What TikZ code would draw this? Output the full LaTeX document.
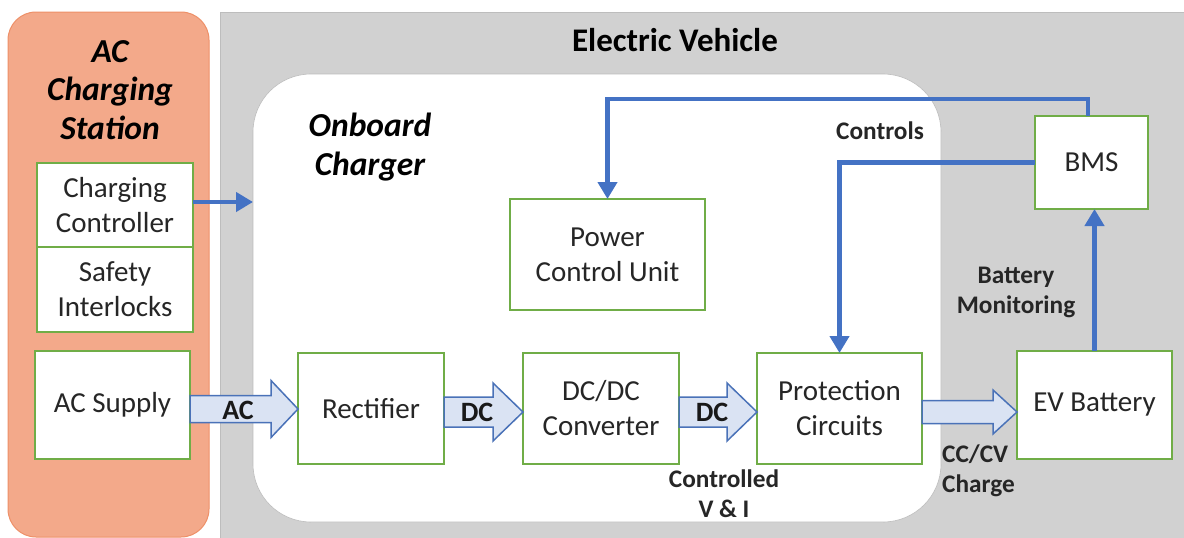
\documentclass[tikz,border=0pt]{standalone}
\usepackage{fontspec}
\setmainfont{Carlito}
\usetikzlibrary{arrows.meta,calc}
\definecolor{orfill}{HTML}{F3A98A}
\definecolor{ordraw}{HTML}{EE9068}
\definecolor{evgray}{HTML}{D1D1D1}
\definecolor{evdraw}{HTML}{BDBDBD}
\definecolor{boxgreen}{HTML}{70AD47}
\definecolor{ctlblue}{HTML}{4472C4}
\definecolor{arrfill}{HTML}{DAE3F3}
\definecolor{arrdraw}{HTML}{4A72B8}
\newcommand\myfatarrow[6]{%
  \draw[fat] let \p1=(#1), \p2=(#2) in
    (\x1,{-(#3-#4)*1pt}) -- ({\x2-#6*1pt},{-(#3-#4)*1pt}) -- ({\x2-#6*1pt},{-(#3-#5)*1pt})
    -- (\x2,{-#3*1pt}) -- ({\x2-#6*1pt},{-(#3+#5)*1pt}) -- ({\x2-#6*1pt},{-(#3+#4)*1pt})
    -- (\x1,{-(#3+#4)*1pt}) -- cycle;}
\begin{document}
\begin{tikzpicture}[x=1pt,y=-1pt,
  region/.style={inner sep=0pt,outer sep=0pt},
  blk/.style={draw=boxgreen,line width=1.3pt,fill=white,inner sep=0pt,outer sep=0pt,
    font=\fontsize{29}{35}\selectfont,align=center,text=black!85},
  lbl/.style={font=\bfseries\fontsize{25.3}{30}\selectfont,align=center,inner sep=0pt,text=black!85},
  arrlbl/.style={font=\bfseries\fontsize{28}{30}\selectfont,inner sep=0pt,text=black!90},
  ttl/.style={font=\bfseries\itshape\fontsize{33.5}{38.5}\selectfont,align=center,inner sep=0pt},
  ctl/.style={draw=ctlblue,line width=4.5pt,-{Triangle[length=17pt,width=19pt]}},
  fat/.style={fill=arrfill,draw=arrdraw,line width=1.5pt,line join=miter}]

\useasboundingbox (0,0) rectangle (1184,538);
\fill[white] (0,0) rectangle (1184,538);

% regions
\node[region,fill=orfill,draw=ordraw,line width=1pt,rounded corners=28pt,
  minimum width=201pt,minimum height=525pt] (station) at (108.5,274.5) {};
\node[region,fill=evgray,draw=evdraw,line width=0.8pt,
  minimum width=975pt,minimum height=540pt] (ev) at (707.5,282) {};
\node[region,fill=white,draw=evdraw,line width=0.6pt,rounded corners=58pt,
  minimum width=688pt,minimum height=448pt] (onboard) at (597,298) {};

% titles
\node[ttl] (sttitle) at (110,90) {AC\\Charging\\Station};
\node[font=\bfseries\fontsize{33}{38}\selectfont,inner sep=0pt] (evtitle) at (675,40) {Electric Vehicle};
\node[ttl] (obtitle) at (370,147) {Onboard\\Charger};

% blocks
\node[blk,minimum width=156pt,minimum height=84pt] (cc) at (115,205) {Charging\\Controller};
\node[blk,minimum width=156pt,minimum height=85pt] (si) at (115,289.5) {Safety\\Interlocks};
\node[blk,minimum width=155pt,minimum height=108pt] (acs) at (112.5,405) {AC Supply};
\node[blk,minimum width=146pt,minimum height=111pt] (rect) at (371,408.5) {Rectifier};
\node[blk,minimum width=156pt,minimum height=111pt] (dcdc) at (601,408.5) {DC/DC\\Converter};
\node[blk,minimum width=165pt,minimum height=111pt] (prot) at (839.5,408.5) {Protection\\Circuits};
\node[blk,minimum width=155pt,minimum height=108pt] (evb) at (1094.5,405) {EV Battery};
\node[blk,minimum width=113pt,minimum height=93pt] (bms) at (1091.5,162.5) {BMS};
\node[blk,minimum width=195pt,minimum height=111pt] (pcu) at (607.5,254.5) {Power\\Control Unit};

% fat power-flow arrows
\myfatarrow{acs.east}{rect.west}{409}{13.5}{28.5}{27}
\myfatarrow{rect.east}{dcdc.west}{412}{15}{29}{30}
\myfatarrow{dcdc.east}{prot.west}{412}{15}{29}{30}
\myfatarrow{prot.east}{evb.west}{412}{11.5}{22}{24}
\node[arrlbl] (lac) at (238,410) {AC};
\node[arrlbl] (ldc1) at (477,412) {DC};
\node[arrlbl] (ldc2) at (712,412) {DC};

% control connectors
\coordinate (topy) at (0,99);
\coordinate (bmstop) at (1088,116);
\coordinate (obin) at (253,202);
\draw[ctl] (bmstop) -- (bmstop |- topy) -| (pcu.north);
\draw[ctl] (bms.west) -| (prot.north);
\draw[ctl] (evb.north) -- (evb.north |- bms.south);
\draw[ctl] (cc.east |- obin) -- (obin);

% labels
\node[lbl] (lcontrols) at (880,131) {Controls};
\node[lbl] (lmon) at (1016,292) {Battery\\Monitoring};
\node[lbl,align=left,anchor=west] (lcccv) at (942,471) {CC/CV\\Charge};
\node[lbl] (lvi) at (724,494) {Controlled\\V \& I};
\end{tikzpicture}
\end{document}
